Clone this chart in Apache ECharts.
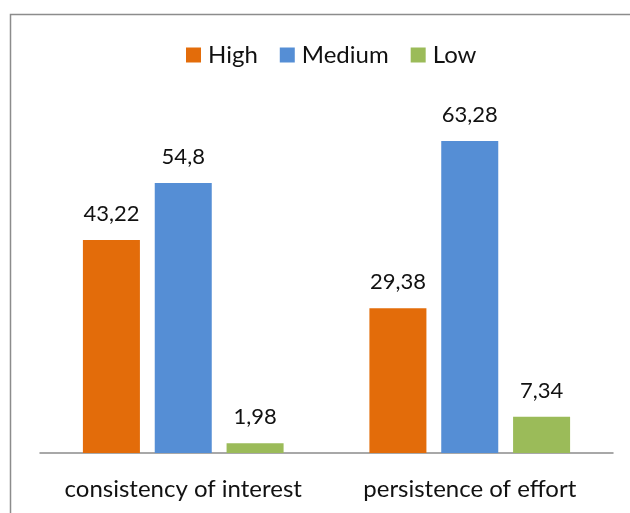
<!DOCTYPE html>
<html><head><meta charset="utf-8">
<script src="https://cdn.jsdelivr.net/npm/echarts@6/dist/echarts.min.js"></script>
<style>html,body{margin:0;padding:0;background:#fff}#c{width:630px;height:513px}</style>
</head><body><div id="c"></div>
<script>
var categories = ['consistency of interest', 'persistence of effort'];
var seriesNames = ['High', 'Medium', 'Low'];
var high = [43.22, 29.38];
var medium = [54.8, 63.28];
var low = [1.98, 7.34];
var colors = ['#E36C0A', '#558ED5', '#9BBB59'];
var values = [high, medium, low];
var FONT = 'Lato';
var chart = echarts.init(document.getElementById('c'));
chart.setOption({
  animation: false,
  textStyle: { fontFamily: FONT },
  graphic: [{
    type: 'rect', shape: { x: 10.5, y: 14.5, width: 640, height: 520 },
    style: { fill: 'none', stroke: '#8c8c8c', lineWidth: 1.5 }, silent: true, z: -1
  }],
  legend: {
    top: 43, left: 186, padding: 0, itemWidth: 15, itemHeight: 15, itemGap: 22,
    icon: 'rect',
    textStyle: { fontFamily: FONT, fontSize: 24, color: '#111', padding: [0, 0, 0, 2] },
    data: seriesNames
  },
  grid: { left: 40, right: 17, top: 108, bottom: 60, containLabel: false },
  xAxis: {
    type: 'category', data: categories,
    axisLine: { lineStyle: { color: '#8c8c8c', width: 1.5 } },
    axisTick: { show: false },
    axisLabel: { interval: 0, hideOverlap: false, fontFamily: FONT, fontSize: 24, color: '#111', margin: 24 }
  },
  yAxis: { type: 'value', min: 0, max: 70, show: false, splitLine: { show: false } },
  series: seriesNames.map(function (n, i) {
    return {
      name: n, type: 'bar', data: values[i], barWidth: '19.9%', barGap: '26%',
      itemStyle: { color: colors[i] },
      label: {
        show: true, position: 'top', distance: 15, fontFamily: FONT, fontSize: 22, color: '#111',
        formatter: function (p) { return String(p.value).replace('.', ','); }
      }
    };
  })
});
</script></body></html>
